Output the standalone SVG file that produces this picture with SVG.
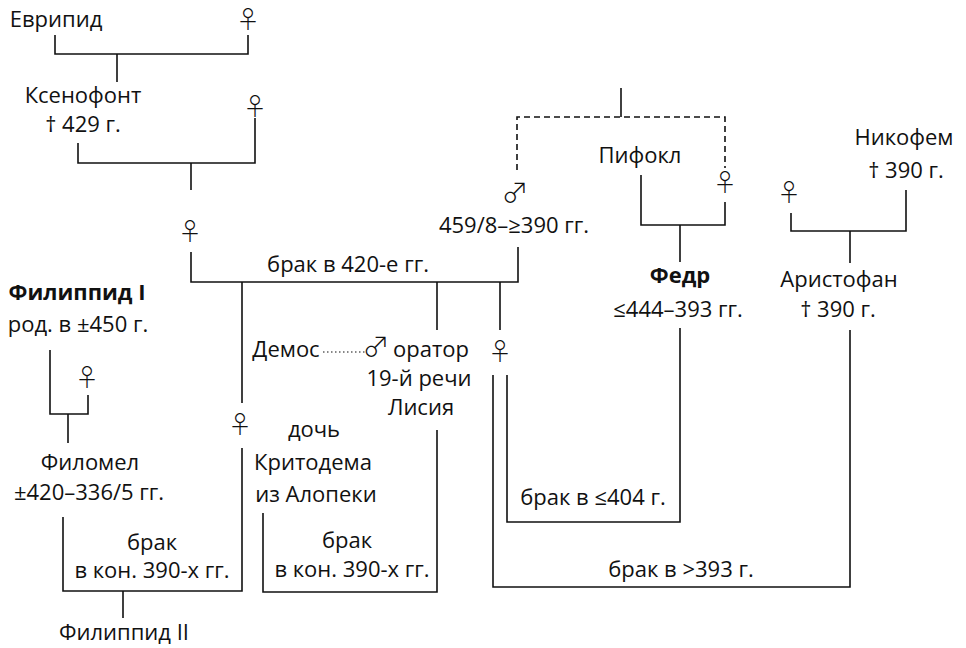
<svg xmlns="http://www.w3.org/2000/svg" width="966" height="648" viewBox="0 0 966 648">
<style>
.t{font-family:"Open Sans","Noto Sans",sans-serif;font-size:22px;fill:#111;text-anchor:middle}
.b{font-weight:bold}
.s{font-family:"Noto Sans CJK JP","Noto Sans CJK SC",sans-serif;font-weight:300;font-size:24px;fill:#111;text-anchor:middle}
.m{font-family:"Noto Sans CJK JP","Noto Sans CJK SC",sans-serif;font-weight:300;font-size:27px;fill:#111;text-anchor:middle}
.l{fill:none;stroke:#111;stroke-width:1.6}
.d{fill:none;stroke:#111;stroke-width:1.6;stroke-dasharray:6 4}
.o{fill:none;stroke:#111;stroke-width:1.2;stroke-dasharray:1.5 2.5}
</style>
<rect width="966" height="648" fill="#fff"/>
<g id="connectors">
<path class="l" d="M55 35V54H248V35M117 54V82"/>
<path class="l" d="M78 143V163H255V118M191 163V190"/>
<path class="l" d="M191 252V282H518V247M242 282V403M437 282V330M500 282V330"/>
<path class="l" d="M621 88V117"/>
<path class="d" d="M517 170V117H725V168"/>
<path class="l" d="M641 175V225H725V202M680 225V262"/>
<path class="l" d="M791 213V231H906V190M850 231V263"/>
<path class="l" d="M50 350V414H88V395M68 414V443"/>
<path class="l" d="M63 517V591H242V448M123 591V618"/>
<path class="l" d="M263 513V592H437V430"/>
<path class="l" d="M507 375V522H680V328"/>
<path class="l" d="M493 375V587H850V330"/>
<path class="o" d="M323 352H365"/>
</g>
<g id="evripid"><text class="t" x="56" y="27">Еврипид</text></g>
<g id="f1"><text class="s" x="248" y="28">♀</text></g>
<g id="xenophon"><text class="t" x="83" y="103">Ксенофонт</text><text class="t" x="83" y="132">† 429 г.</text></g>
<g id="f2"><text class="s" x="255" y="115">♀</text></g>
<g id="f3"><text class="s" x="190" y="240">♀</text></g>
<g id="m1"><text class="m" x="515" y="203">♂</text><text class="t" x="514" y="233">459/8–≥390 гг.</text></g>
<g id="pithocles"><text class="t" x="640" y="163">Пифокл</text></g>
<g id="f4"><text class="s" x="725" y="191">♀</text></g>
<g id="phaedrus"><text class="t b" x="680" y="283">Федр</text><text class="t" x="678" y="317">≤444–393 гг.</text></g>
<g id="nicophemus"><text class="t" x="904" y="145">Никофем</text><text class="t" x="906" y="178">† 390 г.</text></g>
<g id="f5"><text class="s" x="789" y="201">♀</text></g>
<g id="aristophanes"><text class="t" x="839" y="287">Аристофан</text><text class="t" x="838" y="317">† 390 г.</text></g>
<g id="marriage420"><text class="t" x="348" y="272">брак в 420-е гг.</text></g>
<g id="philippides1"><text class="t b" x="77" y="300">Филиппид I</text><text class="t" x="78" y="332">род. в ±450 г.</text></g>
<g id="f6"><text class="s" x="87" y="386">♀</text></g>
<g id="philomelus"><text class="t" x="90" y="470">Филомел</text><text class="t" x="89" y="500">±420–336/5 гг.</text></g>
<g id="f7"><text class="s" x="240" y="433">♀</text></g>
<g id="demos"><text class="t" x="286" y="357">Демос</text></g>
<g id="orator"><text class="m" x="376" y="357">♂</text><text class="t" x="431" y="357">оратор</text><text class="t" x="419" y="386">19-й речи</text><text class="t" x="421" y="415">Лисия</text></g>
<g id="daughter"><text class="t" x="314" y="437">дочь</text><text class="t" x="313" y="470">Критодема</text><text class="t" x="316" y="502">из Алопеки</text></g>
<g id="f8"><text class="s" x="500" y="360">♀</text></g>
<g id="m390a"><text class="t" x="152" y="550">брак</text><text class="t" x="152" y="578">в кон. 390-х гг.</text></g>
<g id="m390b"><text class="t" x="347" y="548">брак</text><text class="t" x="352" y="577">в кон. 390-х гг.</text></g>
<g id="m404"><text class="t" x="593" y="505">брак в ≤404 г.</text></g>
<g id="m393"><text class="t" x="681" y="577">брак в &gt;393 г.</text></g>
<g id="philippides2"><text class="t" x="124" y="640">Филиппид II</text></g>
</svg>
